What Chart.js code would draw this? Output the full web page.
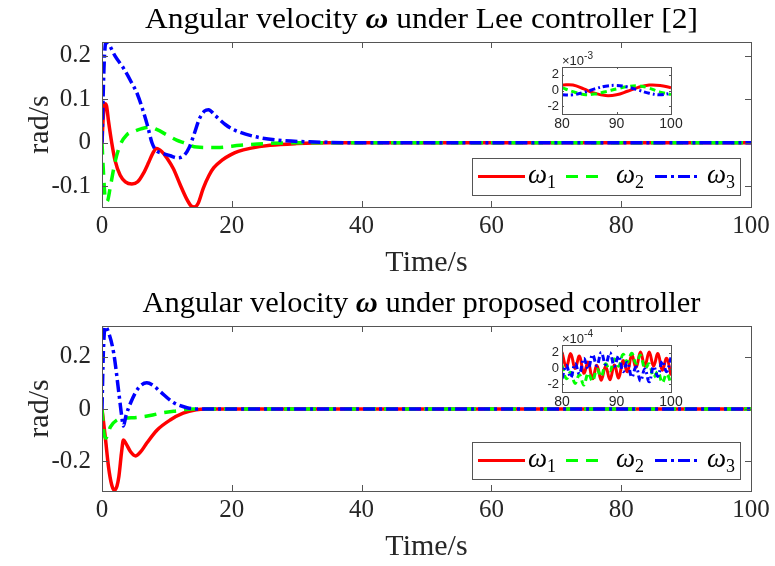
<!DOCTYPE html>
<html>
<head>
<meta charset="utf-8">
<script src="https://cdn.jsdelivr.net/npm/chart.js@4.4.1/dist/chart.umd.min.js"></script>
<style>
html, body { margin: 0; background: #fff; }
#wrap { position: relative; width: 775px; height: 566px; overflow: hidden; }
#wrap canvas { position: absolute; }
</style>
</head>
<body>
<div id="wrap">
  <canvas id="chart-lee" width="775" height="283" style="left:0;top:0"></canvas>
  <canvas id="chart-prop" width="775" height="283" style="left:0;top:284px"></canvas>
  <canvas id="inset-lee" width="170" height="95" style="left:520px;top:45px"></canvas>
  <canvas id="inset-prop" width="170" height="95" style="left:520px;top:323px"></canvas>
</div>
<script>
// tick labels
const xTicks = [0, 20, 40, 60, 80, 100];
const leeYTicks = [-0.1, 0, 0.1, 0.2];
const propYTicks = [-0.2, 0, 0.2];
const insetXTicks = [80, 90, 100];
const insetYTicks = [-2, 0, 2];
const seriesSubs = ['1', '2', '3'];

// Lee controller [2]
const leeTime1 = [0, 0.2, 0.45, 0.7, 1.0, 1.5, 2.0, 2.8, 3.6, 4.6, 5.5, 6.4, 7.2, 7.8, 8.4, 9.2, 10, 11, 12, 13, 13.7, 14.2, 14.8, 15.6, 16.5, 17.2, 18.5, 19.8, 21, 22.8, 25.9, 30, 35, 100];
const leeOmega1 = [0, 0.06, 0.09, 0.085, 0.05, 0.0, -0.04, -0.075, -0.09, -0.095, -0.09, -0.07, -0.045, -0.025, -0.013, -0.02, -0.035, -0.06, -0.095, -0.128, -0.145, -0.148, -0.14, -0.105, -0.075, -0.058, -0.04, -0.028, -0.02, -0.013, -0.006, -0.002, 0, 0];
const leeTime2 = [0, 0.25, 0.5, 0.8, 1.3, 2.0, 2.8, 3.8, 4.9, 6, 7.4, 8.5, 10, 11.5, 12.6, 14.6, 17.7, 21.3, 24.9, 30, 100];
const leeOmega2 = [0, -0.075, -0.128, -0.135, -0.1, -0.045, -0.005, 0.018, 0.026, 0.032, 0.036, 0.03, 0.018, 0.006, 0, -0.01, -0.011, -0.006, -0.002, 0, 0];
const leeTime3 = [0, 0.3, 0.6, 1.0, 2.0, 3.3, 4.5, 5.5, 6.3, 7.0, 7.7, 8.3, 9.3, 10.5, 11.6, 12.6, 13.4, 14.2, 15.0, 15.8, 16.4, 17.5, 19, 20.3, 23.3, 27, 32, 40, 100];
const leeOmega3 = [0, 0.17, 0.232, 0.228, 0.2, 0.172, 0.14, 0.11, 0.075, 0.04, 0.0, -0.017, -0.024, -0.03, -0.035, -0.03, -0.012, 0.02, 0.055, 0.073, 0.076, 0.062, 0.042, 0.03, 0.015, 0.006, 0.002, 0, 0];

// proposed controller
const propTime1 = [0, 0.5, 1.0, 1.5, 1.9, 2.3, 2.6, 3.0, 3.3, 3.7, 4.4, 5.2, 6, 6.9, 8.5, 10.5, 12.5, 14.5, 16, 100];
const propOmega1 = [0, -0.106, -0.22, -0.29, -0.31, -0.295, -0.258, -0.168, -0.118, -0.132, -0.163, -0.179, -0.162, -0.13, -0.08, -0.042, -0.016, -0.003, 0, 0];
const propTime2 = [0, 0.3, 0.6, 0.9, 1.3, 2.3, 3.3, 5.4, 7.4, 9.4, 11.5, 14, 100];
const propOmega2 = [0, -0.092, -0.112, -0.095, -0.068, -0.042, -0.036, -0.032, -0.025, -0.014, -0.007, 0, 0];
const propTime3 = [0, 0.2, 0.5, 0.9, 1.8, 2.6, 3.0, 3.3, 3.7, 4.4, 5.6, 6.9, 8, 9.0, 11, 13.1, 15, 100];
const propOmega3 = [0, 0.21, 0.315, 0.3, 0.214, 0.061, -0.02, -0.065, -0.025, 0.023, 0.08, 0.1, 0.088, 0.066, 0.025, 0.005, 0, 0];

// insets, 80..100 s (x10^-3 and x10^-4)
const leeInsetTime = [80, 82, 84, 86, 88, 90, 92, 94, 96, 98, 100];
const leeInset1 = [0.7, 0.7, 0.2, -0.35, -0.65, -0.55, -0.1, 0.4, 0.7, 0.65, 0.35];
const leeInset2 = [0.35, -0.15, -0.5, -0.45, -0.15, 0.2, 0.5, 0.6, 0.3, -0.2, -0.5];
const leeInset3 = [-0.55, -0.55, -0.25, 0.2, 0.55, 0.65, 0.45, 0.05, -0.35, -0.55, -0.35];
const propInsetTime = [80, 80.8, 81.6, 82.4, 83.2, 84, 84.8, 85.6, 86.4, 87.2, 88, 88.8, 89.6, 90.4, 91.2, 92, 92.8, 93.6, 94.4, 95.2, 96, 96.8, 97.6, 98.4, 99.2, 100];
const propInset1 = [2.1, 0.2, 1.9, 0.0, 1.6, -0.6, 0.8, -1.3, 0.4, -1.5, 0.3, -1.45, 0.45, -1.2, 1.0, -0.4, 1.7, 0.15, 2.1, 0.3, 2.1, 0.3, 1.9, -0.2, 1.3, -0.9];
const propInset2 = [0.4, -1.3, -0.5, -1.9, -0.8, -2.1, -0.6, -1.6, -0.1, -1.0, 0.6, -0.3, 1.2, 0.3, 1.8, 0.8, 1.95, 0.65, 1.7, 0.0, 0.6, -1.1, -0.4, -1.8, -0.7, -1.9];
const propInset3 = [-1.3, 0.4, -1.15, 0.6, -0.7, 1.3, -0.05, 1.75, 0.35, 2.05, 0.5, 2.0, 0.3, 1.6, -0.4, 0.8, -1.1, 0.2, -1.6, -0.05, -1.7, 0.25, -1.0, 0.95, -0.4, 1.4];

const colors = ['#ff0000', '#00ff00', '#0000ff'];
const dashes = [[], [12, 8], [12, 4, 3, 4]];
const insetDashes = [[], [6, 4], [6, 3, 2, 3]];
const serif = '"Liberation Serif", "Times New Roman", serif';
const sans = '"Liberation Sans", Arial, sans-serif';
const ink = '#262626';

const pts = (t, v) => t.map((x, i) => ({ x: x, y: v[i] }));

// box round the axes with ticks pointing inwards
const framePlugin = {
    id: 'frame',
    beforeDatasetsDraw(chart) {
        const a = chart.chartArea, ctx = chart.ctx;
        ctx.save();
        ctx.fillStyle = '#fff';
        ctx.fillRect(a.left, a.top, a.right - a.left, a.bottom - a.top);
        ctx.restore();
    },
    afterDatasetsDraw(chart, args, opts) {
        const a = chart.chartArea, ctx = chart.ctx, len = opts.tick;
        ctx.save();
        ctx.strokeStyle = '#555';
        ctx.lineWidth = 1;
        ctx.beginPath();
        chart.scales.x.ticks.forEach(t => {
            const px = Math.round(chart.scales.x.getPixelForValue(t.value)) + 0.5;
            ctx.moveTo(px, a.bottom); ctx.lineTo(px, a.bottom - len);
            ctx.moveTo(px, a.top); ctx.lineTo(px, a.top + len);
        });
        chart.scales.y.ticks.forEach(t => {
            const py = Math.round(chart.scales.y.getPixelForValue(t.value)) + 0.5;
            ctx.moveTo(a.left, py); ctx.lineTo(a.left + len, py);
            ctx.moveTo(a.right, py); ctx.lineTo(a.right - len, py);
        });
        ctx.stroke();
        ctx.strokeRect(Math.round(a.left) + 0.5, Math.round(a.top) + 0.5, Math.round(a.right - a.left), Math.round(a.bottom - a.top));
        ctx.restore();
    }
};

// title with the bold omega
const headerPlugin = {
    id: 'header',
    afterDraw(chart, args, opts) {
        if (!opts.parts) return;
        const a = chart.chartArea, ctx = chart.ctx;
        const fonts = ['29px ' + serif, 'bold italic 29px ' + serif, '29px ' + serif];
        ctx.save();
        let w = 0;
        const widths = opts.parts.map((p, i) => { ctx.font = fonts[i]; const m = ctx.measureText(p).width; w += m; return m; });
        ctx.translate((a.left + a.right) / 2 - 5, 28);
        ctx.scale(opts.width / w, 1);
        ctx.fillStyle = '#000';
        ctx.textBaseline = 'alphabetic';
        let x = -w / 2;
        opts.parts.forEach((p, i) => { ctx.font = fonts[i]; ctx.fillText(p, x, 0); x += widths[i]; });
        ctx.restore();
    }
};

// legend box at the lower right
const keyPlugin = {
    id: 'key',
    afterDraw(chart, args, opts) {
        if (!opts.show) return;
        const a = chart.chartArea, ctx = chart.ctx;
        const bx = a.right - 279, by = a.bottom - 49, bw = 268, bh = 37;
        const cy = by + bh / 2;
        const lineX = [[6, 53], [94, 130], [183, 228]];
        const textX = [56, 144, 235];
        ctx.save();
        ctx.fillStyle = '#fff';
        ctx.fillRect(bx, by, bw, bh);
        ctx.strokeStyle = '#555';
        ctx.lineWidth = 1;
        ctx.strokeRect(bx + 0.5, by + 0.5, bw, bh);
        chart.data.datasets.forEach((ds, i) => {
            ctx.strokeStyle = ds.borderColor;
            ctx.lineWidth = 3;
            ctx.setLineDash(dashes[i]);
            ctx.beginPath();
            ctx.moveTo(bx + lineX[i][0], cy);
            ctx.lineTo(bx + lineX[i][1], cy);
            ctx.stroke();
            ctx.setLineDash([]);
            ctx.fillStyle = '#000';
            ctx.font = 'italic 27px ' + serif;
            ctx.textBaseline = 'alphabetic';
            ctx.fillText('ω', bx + textX[i], cy + 6);
            const ww = ctx.measureText('ω').width;
            ctx.font = '18px ' + serif;
            ctx.fillText(seriesSubs[i], bx + textX[i] + ww, cy + 11);
        });
        ctx.restore();
    }
};

// the x10^n label above an inset
const powerPlugin = {
    id: 'power',
    afterDraw(chart, args, opts) {
        if (!opts.exp) return;
        const a = chart.chartArea, ctx = chart.ctx;
        ctx.save();
        ctx.fillStyle = ink;
        ctx.font = '13px ' + sans;
        ctx.fillText('×10', a.left, a.top - 2);
        const w = ctx.measureText('×10').width;
        ctx.font = '10px ' + sans;
        ctx.fillText(opts.exp, a.left + w, a.top - 8);
        ctx.restore();
    }
};

function mainChart(id, parts, titleWidth, yMin, yMax, yTicks, series) {
    return new Chart(document.getElementById(id), {
        type: 'line',
        data: {
            datasets: series.map((s, i) => ({
                label: 'ω' + seriesSubs[i],
                data: pts(s[0], s[1]),
                borderColor: colors[i],
                borderDash: dashes[i],
                borderWidth: 3.5,
                pointRadius: 0,
                cubicInterpolationMode: 'monotone',
                order: 2 - i,
                fill: false
            }))
        },
        options: {
            responsive: false,
            animation: false,
            layout: { padding: { top: 42, right: 24, left: 0, bottom: 0 } },
            scales: {
                x: {
                    type: 'linear', min: 0, max: 100,
                    grid: { display: false, drawTicks: false },
                    border: { display: false },
                    afterBuildTicks: s => { s.ticks = xTicks.map(v => ({ value: v })); },
                    afterFit: s => { s.height = 76; },
                    ticks: { padding: 4, color: ink, maxRotation: 0, autoSkip: false, font: { family: serif, size: 25 }, callback: v => String(v) },
                    title: { display: true, text: 'Time/s', color: ink, font: { family: serif, size: 30 }, padding: { top: 0, bottom: 2 } }
                },
                y: {
                    type: 'linear', min: yMin, max: yMax,
                    grid: { display: false, drawTicks: false },
                    border: { display: false },
                    afterBuildTicks: s => { s.ticks = yTicks.map(v => ({ value: v })); },
                    afterFit: s => { s.width = 102; },
                    ticks: { padding: 11, color: ink, autoSkip: false, font: { family: serif, size: 25 }, callback: v => String(v) },
                    title: { display: true, text: 'rad/s', color: ink, font: { family: serif, size: 30 }, padding: { top: 22, bottom: 0 } }
                }
            },
            plugins: {
                legend: { display: false },
                tooltip: { enabled: false },
                frame: { tick: 6 },
                header: { parts: parts, width: titleWidth },
                key: { show: true }
            }
        },
        plugins: [framePlugin, headerPlugin, keyPlugin]
    });
}

function insetChart(id, exp, time, series) {
    return new Chart(document.getElementById(id), {
        type: 'line',
        data: {
            datasets: series.map((v, i) => ({
                data: pts(time, v),
                borderColor: colors[i],
                borderDash: insetDashes[i],
                borderWidth: 3,
                pointRadius: 0,
                tension: 0.4,
                order: 2 - i,
                fill: false
            }))
        },
        options: {
            responsive: false,
            animation: false,
            layout: { padding: { top: 22, right: 19, left: 0, bottom: 0 } },
            scales: {
                x: {
                    type: 'linear', min: 80, max: 100,
                    grid: { display: false, drawTicks: false },
                    border: { display: false },
                    afterBuildTicks: s => { s.ticks = insetXTicks.map(v => ({ value: v })); },
                    afterFit: s => { s.height = 26; },
                    ticks: { padding: 2, color: ink, maxRotation: 0, autoSkip: false, font: { family: sans, size: 14 }, callback: v => String(v) }
                },
                y: {
                    type: 'linear', min: -3, max: 3,
                    grid: { display: false, drawTicks: false },
                    border: { display: false },
                    afterBuildTicks: s => { s.ticks = insetYTicks.map(v => ({ value: v })); },
                    afterFit: s => { s.width = 42; },
                    ticks: { padding: 3, color: ink, autoSkip: false, font: { family: sans, size: 13 }, callback: v => String(v) }
                }
            },
            plugins: {
                legend: { display: false },
                tooltip: { enabled: false },
                frame: { tick: 2 },
                power: { exp: exp }
            }
        },
        plugins: [framePlugin, powerPlugin]
    });
}

mainChart('chart-lee', ['Angular velocity ', 'ω', ' under Lee controller [2]'], 553, -0.148, 0.232, leeYTicks,
    [[leeTime1, leeOmega1], [leeTime2, leeOmega2], [leeTime3, leeOmega3]]);
mainChart('chart-prop', ['Angular velocity ', 'ω', ' under proposed controller'], 558, -0.313, 0.317, propYTicks,
    [[propTime1, propOmega1], [propTime2, propOmega2], [propTime3, propOmega3]]);
insetChart('inset-lee', '-3', leeInsetTime, [leeInset1, leeInset2, leeInset3]);
insetChart('inset-prop', '-4', propInsetTime, [propInset1, propInset2, propInset3]);
</script>
</body>
</html>
